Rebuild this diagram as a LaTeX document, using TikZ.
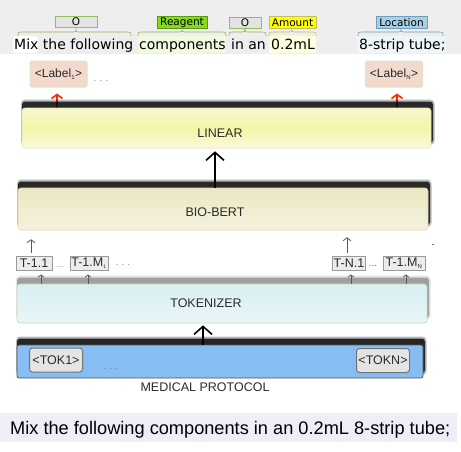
\documentclass[tikz,border=0pt]{standalone}
\usepackage{fontspec}
\setmainfont{Liberation Sans}
\newfontfamily\dejavu{DejaVu Sans}
\usetikzlibrary{arrows.meta,calc}
\definecolor{bannerbg}{HTML}{EEEEEE}
\definecolor{tagO}{HTML}{E3E3E3}
\definecolor{tagObd}{HTML}{8FBF5A}
\definecolor{tagRg}{HTML}{86DC1C}
\definecolor{tagRgbd}{HTML}{5A9A10}
\definecolor{tagAm}{HTML}{FFFF00}
\definecolor{tagAmbd}{HTML}{C0C060}
\definecolor{tagLo}{HTML}{A9D1E3}
\definecolor{tagLobd}{HTML}{6A9FC0}
\definecolor{hlRg}{HTML}{F0FADC}
\definecolor{hlAm}{HTML}{FEFEDE}
\definecolor{hlLo}{HTML}{EFF6FA}
\definecolor{labfill}{HTML}{F2DACD}
\definecolor{labbd}{HTML}{E4DFC6}
\definecolor{redarr}{HTML}{FF2A00}
\definecolor{linTop}{HTML}{F8F8CC}
\definecolor{linMid}{HTML}{F4F4A8}
\definecolor{linBot}{HTML}{FAFADA}
\definecolor{linBd}{HTML}{E4E4B8}
\definecolor{bbTop}{HTML}{EBE7C2}
\definecolor{bbBot}{HTML}{F4F2DE}
\definecolor{bbBd}{HTML}{DAD6AE}
\definecolor{tkTop}{HTML}{D8EFF3}
\definecolor{tkBot}{HTML}{EAF6F7}
\definecolor{tkBd}{HTML}{CCD6BC}
\definecolor{medFill}{HTML}{86BEF4}
\definecolor{medBd}{HTML}{555555}
\definecolor{tokFill}{HTML}{E4E4E4}
\definecolor{tFill}{HTML}{ECECEC}
\definecolor{tBd}{HTML}{9A9A9A}
\definecolor{txt}{HTML}{2A2A2A}
\definecolor{bottombg}{HTML}{EFEDF8}
\newcommand\myshadow[5]{%
  \fill[black, opacity=#5*0.35, rounded corners=4] (#1-1,#2-8.5) rectangle (#3+3.5,#4-3);
  \fill[black, opacity=#5, rounded corners=3] (#1,#2-6.5) rectangle (#3+2,#4-5);
}
\begin{document}
\begin{tikzpicture}[x=1pt,y=-1pt,
  tagbox/.style={draw, line width=0.7pt, inner sep=0pt, minimum height=11.5pt, font=\dejavu\fontsize{10.5}{10.5}\selectfont},
  toptext/.style={inner sep=0pt, anchor=base west, font=\dejavu\fontsize{14}{16}\selectfont},
  bracefig/.style={line width=0.6pt},
  labelbox/.style={draw=labbd, line width=1pt, fill=labfill, rounded corners=2pt, minimum width=57pt, minimum height=26pt, inner sep=0pt, text=txt, font=\fontsize{12}{13}\selectfont},
  bigbox/.style={draw, line width=0.6pt, rounded corners=3pt, inner sep=0pt},
  boxtext/.style={inner sep=0pt, text=txt, font=\fontsize{12.5}{14}\selectfont},
  redarrow/.style={draw=redarr, line width=1.6pt, -{Straight Barb[length=4pt,width=11pt]}},
  bigarrow/.style={draw=black, line width=1.6pt, -{Straight Barb[length=8pt,width=18pt]}},
  thinarrow/.style={draw=black!65, line width=0.8pt, -{Straight Barb[length=3pt,width=8pt]}},
  tinyarrow/.style={draw=black!65, line width=0.7pt, -{Straight Barb[length=2.5pt,width=6pt]}},
  tbox/.style={draw=tBd, fill=tFill, line width=0.8pt, inner sep=0pt, minimum height=14pt, text=txt, font=\fontsize{12.5}{13}\selectfont},
  tokbox/.style={draw=black!55, fill=tokFill, line width=1pt, rounded corners=3pt, inner sep=0pt, minimum width=53pt, minimum height=24pt, text=txt, font=\fontsize{12.5}{13}\selectfont},
  dotstext/.style={inner sep=0pt, text=black!50, font=\fontsize{9}{10}\selectfont}
]
\useasboundingbox (0,0) rectangle (461,451);
% ---------- top banner ----------
\fill[bannerbg] (0,0) rectangle (461,54);
\fill[white, rounded corners=2pt] (13,36) rectangle (38,53);
\fill[hlRg] (138,36) rectangle (226,53);
\fill[hlAm] (269,36) rectangle (316,53);
\fill[hlLo] (357,36) rectangle (446,53);
\node[tagbox, fill=tagO, draw=tagObd, minimum width=42pt] (o1) at (76,22) {O};
\node[tagbox, fill=tagRg, draw=tagRgbd, minimum width=50pt] (reag) at (182,22.5) {Reagent};
\node[tagbox, fill=tagO, draw=tagObd, minimum width=32pt] (o2) at (245,23) {O};
\node[tagbox, fill=tagAm, draw=tagAmbd, minimum width=47pt] (amt) at (292.5,22.5) {Amount};
\node[tagbox, fill=tagLo, draw=tagLobd, minimum width=51pt] (loc) at (401.5,22.5) {Location};
% braces
\draw[bracefig, draw=tagObd!80!gray] (18,36) .. controls (18,32) .. (24,32) -- (70,32) .. controls (76,32) .. (76,28.5) .. controls (76,32) .. (82,32) -- (125,32) .. controls (131,32) .. (131,36);
\draw[bracefig, draw=tagObd!80!gray] (138,36) .. controls (138,32) .. (144,32) -- (176,32) .. controls (182,32) .. (182,28.5) .. controls (182,32) .. (188,32) -- (220,32) .. controls (226,32) .. (226,36);
\draw[bracefig, draw=tagObd!80!gray] (229,36) .. controls (229,32) .. (235,32) -- (240,32) .. controls (245,32) .. (245,29) .. controls (245,32) .. (250,32) -- (260,32) .. controls (266,32) .. (266,36);
\draw[bracefig, draw=tagAmbd] (269,36) .. controls (269,32) .. (275,32) -- (287,32) .. controls (292,32) .. (292,28.5) .. controls (292,32) .. (297,32) -- (310,32) .. controls (316,32) .. (316,36);
\draw[bracefig, draw=tagLobd!80!gray] (358,36) .. controls (358,32) .. (364,32) -- (395,32) .. controls (401,32) .. (401,28.5) .. controls (401,32) .. (407,32) -- (437,32) .. controls (443,32) .. (443,36);
\node[toptext] (w1) at (14,49) {Mix the following};
\node[toptext] (w2) at (139,49) {components};
\node[toptext] (w3) at (231,49) {in an};
\node[toptext] (w4) at (271,49) {0.2mL};
\node[toptext] (w5) at (359,49) {8-strip tube;};
% ---------- labels ----------
\node[labelbox] (lab1) at (58.5,74) {<Label\textsubscript{\fontsize{6}{6}\selectfont 1}>};
\node[labelbox] (labn) at (394,74) {<Label\textsubscript{\fontsize{6}{6}\selectfont N}>};
\node[dotstext] (d0) at (101,81) {. . .};
% ---------- big boxes ----------
\coordinate (ra) at (57,0);
\coordinate (rb) at (397,0);
\coordinate (ca) at (215,0);
\coordinate (cb) at (203,0);
\draw[redarrow, shorten >=6pt] (57,108) -- (lab1.south -| ra);
\draw[redarrow, shorten >=6pt] (397,108) -- (labn.south -| rb);
\myshadow{22}{108}{431}{148}{0.78}
\myshadow{18}{188}{428}{230}{0.78}
\myshadow{17}{284}{427}{323}{0.3}
\myshadow{17}{345}{423}{378}{0.8}
\node[bigbox, draw=linBd, top color=linTop, bottom color=linBot, middle color=linMid, minimum width=409pt, minimum height=40pt] (linear) at (226.5,128) {};
\node[boxtext] at (220,133) {LINEAR};
\node[bigbox, draw=bbBd, top color=bbTop, bottom color=bbBot, minimum width=410pt, minimum height=42pt] (biobert) at (223,209) {};
\node[boxtext] at (215,212) {BIO-BERT};
\node[bigbox, draw=tkBd, top color=tkTop, bottom color=tkBot, minimum width=410pt, minimum height=39pt] (tokenizer) at (222,303.5) {};
\node[boxtext] at (206,303) {TOKENIZER};
\node[bigbox, draw=medBd, fill=medFill, line width=0.8pt, rounded corners=2pt, minimum width=406pt, minimum height=33pt] (medical) at (220,361.5) {};
\node[boxtext] at (205,387) {MEDICAL PROTOCOL};
% ---------- big arrows ----------
\draw[bigarrow, shorten >=3pt] (biobert.north -| ca) -- (linear.south -| ca);
\draw[bigarrow, shorten >=2pt] (medical.north -| cb) -- (tokenizer.south -| cb);
% ---------- T tokens ----------
\node[tbox, minimum width=36pt] (t11) at (34,263) {T-1.1};
\node[tbox, minimum width=38pt] (t1m) at (89,263) {T-1.M\textsubscript{\fontsize{5}{5}\selectfont 1}};
\node[tbox, minimum width=33pt] (tn1) at (349,263) {T-N.1};
\node[tbox, minimum width=42pt] (t1mn) at (404,263) {T-1.M\textsubscript{\fontsize{6}{6}\selectfont N}};
\node[dotstext, font=\fontsize{8}{8}\selectfont] (d1) at (60,267) {...};
\node[dotstext] (d2) at (123,265) {. . .};
\node[dotstext, font=\fontsize{10}{10}\selectfont, text=black!60] (d3) at (373,266) {...};
\fill[black!55] (432,243.6) rectangle (434,244.6);
\coordinate (xa) at (31,0);
\coordinate (xb) at (347,0);
\draw[thinarrow, shorten <=3pt, shorten >=9pt] (t11.north -| xa) -- (biobert.south -| xa);
\draw[thinarrow, shorten <=3pt, shorten >=7pt] (tn1.north -| xb) -- (biobert.south -| xb);
\coordinate (s1) at (41,0);
\coordinate (s2) at (88,0);
\coordinate (s3) at (351,0);
\coordinate (s4) at (406,0);
\draw[tinyarrow, shorten >=4pt] (tokenizer.north -| s1) -- (t11.south -| s1);
\draw[tinyarrow, shorten >=4pt] (tokenizer.north -| s2) -- (t1m.south -| s2);
\draw[tinyarrow, shorten >=4pt] (tokenizer.north -| s3) -- (tn1.south -| s3);
\draw[tinyarrow, shorten >=4pt] (tokenizer.north -| s4) -- (t1mn.south -| s4);
% ---------- TOK boxes ----------
\node[tokbox] (tok1) at (56,360) {<TOK1>};
\node[tokbox] (tokn) at (383,360.5) {<TOKN>};
\node[dotstext, text=black!55] (d4) at (111,369) {. . .};
% ---------- bottom sentence ----------
\fill[bottombg] (0,413) rectangle (457,442);
\node[inner sep=0pt, anchor=base west, text=black, font=\fontsize{18.2}{20}\selectfont] (sent) at (10,434) {Mix the following components in an 0.2mL 8-strip tube;};
\end{tikzpicture}
\end{document}
